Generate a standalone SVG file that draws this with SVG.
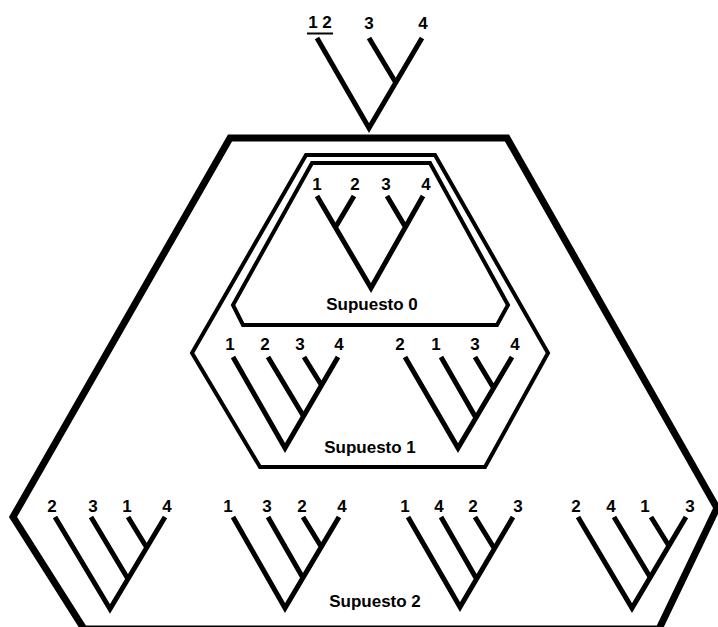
<svg xmlns="http://www.w3.org/2000/svg" width="718" height="627" viewBox="0 0 718 627">
<style>
.lbl{font-family:"Liberation Sans",Arial,sans-serif;font-weight:bold;font-size:17px;fill:#000;text-anchor:middle}
.br{stroke:#000;stroke-width:5;fill:none;stroke-linecap:butt;stroke-linejoin:miter}
.hex{stroke:#000;stroke-width:4;fill:none;stroke-linejoin:miter}
.outer{stroke:#000;stroke-width:7;fill:none;stroke-linejoin:miter}
</style>
<rect width="718" height="627" fill="#fff"/>
<g id="frames">
  <polygon id="supuesto2-frame" class="outer" points="230,138 507,138 717,508 659,629 84,629 13,517"/>
  <polygon id="supuesto1-frame" class="hex" points="306,155 435,155 548,353 485,467 260,467 192,353"/>
  <polygon id="supuesto0-frame" class="hex" points="312,163 430,163 508,305 497,325 243,325 233,305"/>
</g>
<g id="top-tree">
  <text class="lbl" x="320" y="28">1 2</text>
  <line x1="307" y1="33.5" x2="333" y2="33.5" stroke="#000" stroke-width="2"/>
  <text class="lbl" x="369" y="29">3</text>
  <text class="lbl" x="423" y="29">4</text>
  <path class="br" stroke-width="6" d="M317,38 L369,128 L422,38 M369,38 L396,83"/>
</g>
<g id="supuesto0">
  <text class="lbl" x="317" y="190">1</text>
  <text class="lbl" x="355" y="190">2</text>
  <text class="lbl" x="386" y="190">3</text>
  <text class="lbl" x="426" y="190">4</text>
  <path class="br" d="M317,196 L371,288 L423,196 M354,196 L335,228 M387,196 L406,228"/>
  <text class="lbl" x="372" y="310">Supuesto 0</text>
</g>
<g id="supuesto1">
  <text class="lbl" x="230" y="350">1</text>
  <text class="lbl" x="265" y="350">2</text>
  <text class="lbl" x="300" y="350">3</text>
  <text class="lbl" x="339" y="350">4</text>
  <path class="br" d="M233,357 L285,448 L338,357 M268,357 L304,417 M304,357 L322,386"/>
  <text class="lbl" x="400" y="350">2</text>
  <text class="lbl" x="436" y="350">1</text>
  <text class="lbl" x="475" y="350">3</text>
  <text class="lbl" x="515" y="350">4</text>
  <path class="br" d="M405,357 L458,448 L512,357 M441,357 L476,418 M475,357 L493,387"/>
  <text class="lbl" x="370" y="453">Supuesto 1</text>
</g>
<g id="supuesto2">
  <text class="lbl" x="52" y="512">2</text>
  <text class="lbl" x="93" y="512">3</text>
  <text class="lbl" x="127" y="512">1</text>
  <text class="lbl" x="167" y="512">4</text>
  <path class="br" d="M55,517 L110,609 L165,517 M91,517 L128,579 M128,517 L147,548"/>
  <text class="lbl" x="228" y="512">1</text>
  <text class="lbl" x="267" y="512">3</text>
  <text class="lbl" x="302" y="512">2</text>
  <text class="lbl" x="342" y="512">4</text>
  <path class="br" d="M233,517 L285,608 L339,517 M268,517 L303,578 M303,517 L322,548"/>
  <text class="lbl" x="405" y="512">1</text>
  <text class="lbl" x="439" y="512">4</text>
  <text class="lbl" x="473" y="512">2</text>
  <text class="lbl" x="518" y="512">3</text>
  <path class="br" d="M408,517 L460,607 L513,517 M441,517 L476,578 M475,517 L494,548"/>
  <text class="lbl" x="576" y="512">2</text>
  <text class="lbl" x="611" y="512">4</text>
  <text class="lbl" x="645" y="512">1</text>
  <text class="lbl" x="690" y="512">3</text>
  <path class="br" d="M578,517 L632,608 L686,517 M614,517 L650,577 M651,517 L669,546"/>
  <text class="lbl" x="375" y="607">Supuesto 2</text>
</g>
</svg>
